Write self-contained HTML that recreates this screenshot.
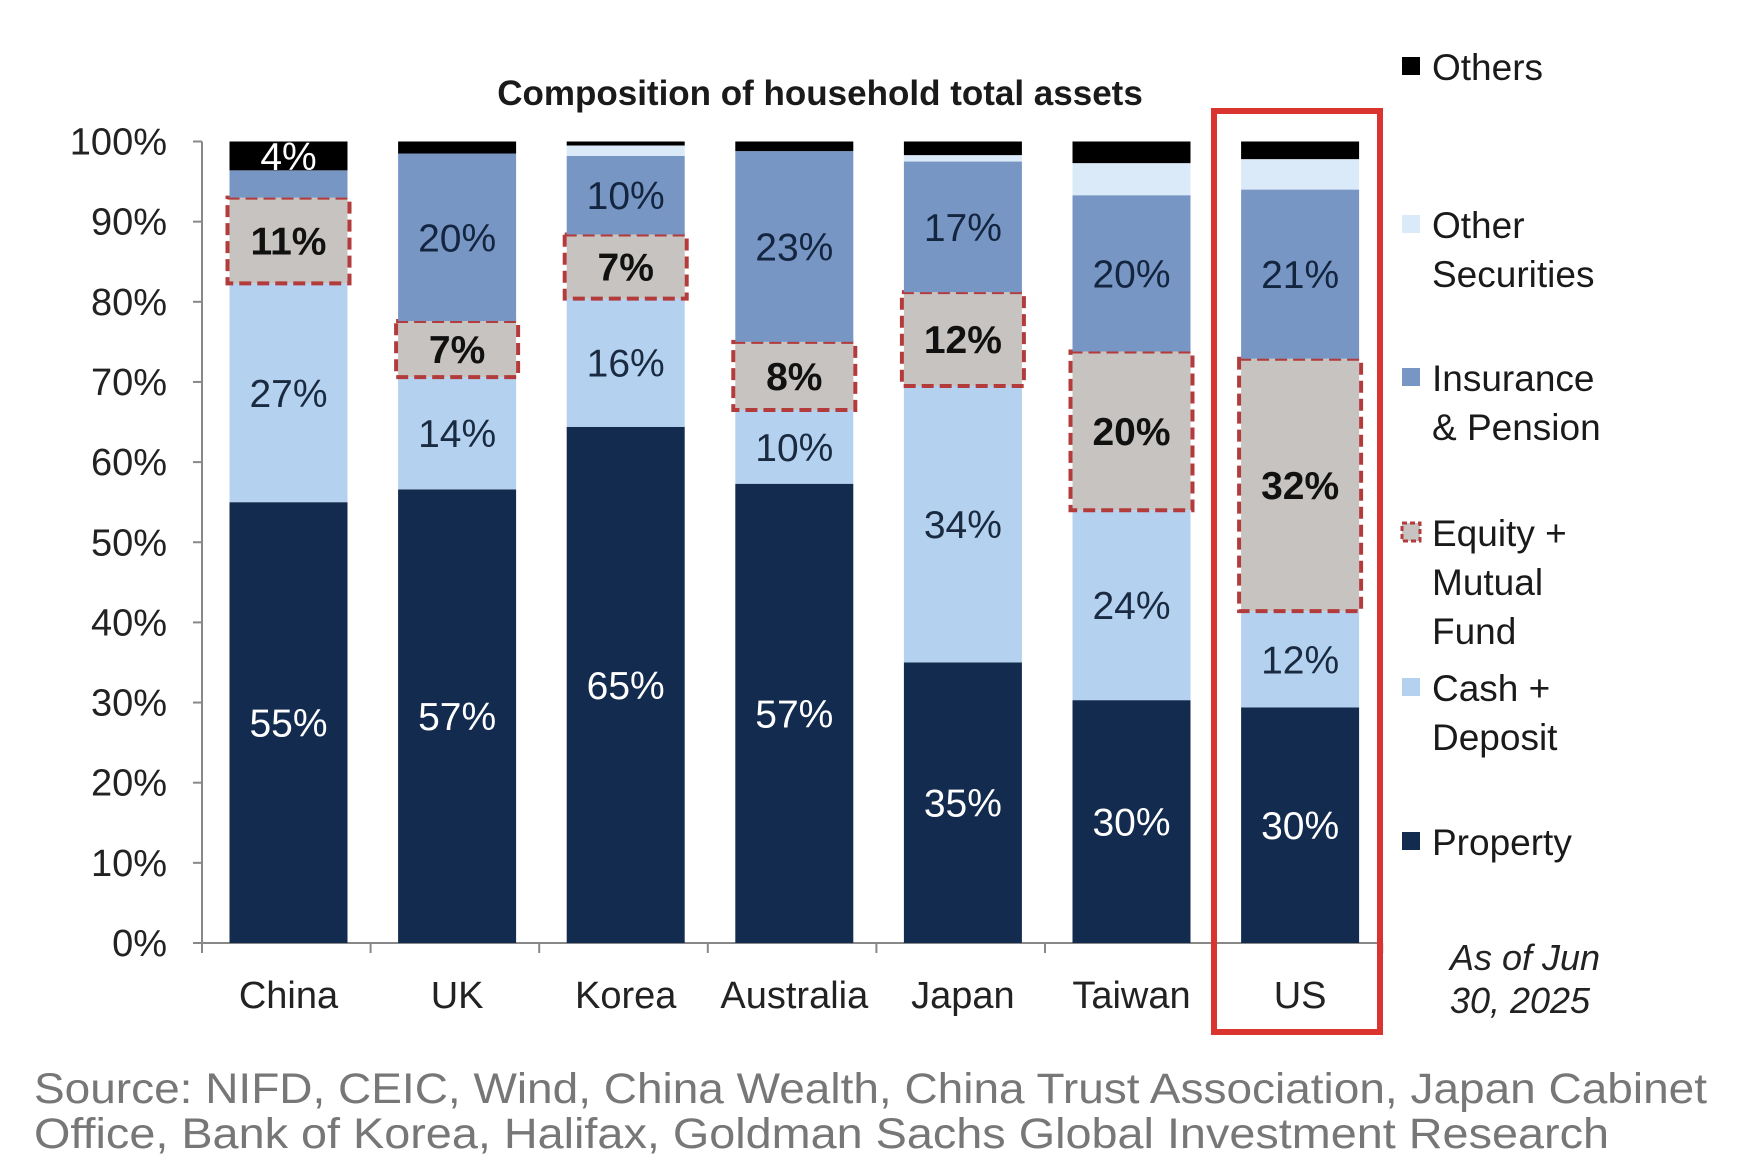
<!DOCTYPE html>
<html><head><meta charset="utf-8">
<style>
html,body{margin:0;padding:0;background:#fff;width:1761px;height:1163px;overflow:hidden}
svg{display:block}
text{font-family:"Liberation Sans",Arial,sans-serif}
</style></head>
<body>
<svg id="chart" width="1761" height="1163" viewBox="0 0 1761 1163" xmlns="http://www.w3.org/2000/svg">
<text x="820" y="105" text-anchor="middle" font-size="35" font-weight="bold" fill="#1a1a1a">Composition of household total assets</text>
<g id="axes"></g>
<g id="bars"></g>
<g id="legend"></g>
<rect x="1214" y="111" width="166" height="921" fill="none" stroke="#d9342f" stroke-width="6"/>
<text x="1525" y="970" text-anchor="middle" font-size="36" font-style="italic" fill="#222">As of Jun</text>
<text x="1520" y="1013" text-anchor="middle" font-size="36" font-style="italic" fill="#222">30, 2025</text>
<text x="34" y="1103" font-size="43" fill="#777" textLength="1673" lengthAdjust="spacingAndGlyphs">Source: NIFD, CEIC, Wind, China Wealth, China Trust Association, Japan Cabinet</text>
<text x="34" y="1148" font-size="43" fill="#777" textLength="1575" lengthAdjust="spacingAndGlyphs">Office, Bank of Korea, Halifax, Goldman Sachs Global Investment Research</text>
</svg>
<script>
const categories = ["China","UK","Korea","Australia","Japan","Taiwan","US"];
const property  = [55, 56.6, 64.4, 57.3, 35, 30.3, 29.4];
const cash      = [27.3, 14, 16, 9.2, 34.5, 23.7, 12];
const equity    = [10.7, 7, 8, 8.5, 11.7, 19.8, 31.5];
const insurance = [3.4, 20.9, 9.8, 23.8, 16.3, 19.5, 21.1];
const otherSec  = [0, 0, 1.3, 0, 0.8, 4, 3.8];
const others    = [3.6, 1.5, 0.5, 1.2, 1.7, 2.7, 2.2];
const propertyLbl  = ["55%","57%","65%","57%","35%","30%","30%"];
const cashLbl      = ["27%","14%","16%","10%","34%","24%","12%"];
const equityLbl    = ["11%","7%","7%","8%","12%","20%","32%"];
const insuranceLbl = ["","20%","10%","23%","17%","20%","21%"];
const othersLbl    = ["4%","","","","","",""];
const yTicks = [0,10,20,30,40,50,60,70,80,90,100];

const NS="http://www.w3.org/2000/svg";
const y0=943, y100=141.5, xAxis0=202, step=168.6, barW=118, firstC=288.5;
const y=v=>y0-(y0-y100)*v/100;
const xc=i=>firstC+i*step;
function mk(tag,attrs,parent,txt){const e=document.createElementNS(NS,tag);for(const k in attrs)e.setAttribute(k,attrs[k]);if(txt!==undefined)e.textContent=txt;parent.appendChild(e);return e;}
const axes=document.getElementById('axes'), bars=document.getElementById('bars'), legend=document.getElementById('legend');

let ax=mk('line',{x1:xAxis0,y1:y100,x2:xAxis0,y2:y0,stroke:'#888','stroke-width':2},axes);


let bx=mk('line',{x1:xAxis0,y1:y0,x2:1378,y2:y0,stroke:'#888','stroke-width':2},axes);


yTicks.forEach(t=>{
  let tk=mk('line',{x1:xAxis0-9,y1:y(t),x2:xAxis0,y2:y(t),stroke:'#888','stroke-width':2},axes);
  
  
  let tl=mk('text',{x:167,y:y(t)+13,'text-anchor':'end','font-size':38,fill:'#222'},axes,t+'%');
  
  
});
for(let i=0;i<=categories.length;i++){
  let xx=xAxis0+i*step;
  let tk=mk('line',{x1:xx,y1:y0,x2:xx,y2:y0+10,stroke:'#888','stroke-width':2},axes);
  
  
}
categories.forEach((c,i)=>{
  let t=mk('text',{x:xc(i),y:1008,'text-anchor':'middle','font-size':38,fill:'#222'},axes,c);
  
  
});

const series=[
 {d:property,l:propertyLbl,fill:'#132b4f',tc:'#fff',n:'property'},
 {d:cash,l:cashLbl,fill:'#b4d2ef',tc:'#1a2a40',n:'cash'},
 {d:equity,l:equityLbl,fill:'#c6c3c1',tc:'#111',n:'equity',dash:true},
 {d:insurance,l:insuranceLbl,fill:'#7896c4',tc:'#142540',n:'insurance'},
 {d:otherSec,l:null,fill:'#dbeaf9',tc:'#000',n:'other-securities'},
 {d:others,l:othersLbl,fill:'#000',tc:'#fff',n:'others'}
];
categories.forEach((c,i)=>{
  let cum=0;
  series.forEach(s=>{
    const v=s.d[i]; const top=y(cum+v), bot=y(cum);
    const x=xc(i)-barW/2;
    if(v>0){
      let r=mk('rect',{x:x,y:top,width:barW,height:bot-top,fill:s.fill},bars);
      
      
      if(s.dash){
        let b=mk('rect',{x:x-2,y:top,width:barW+4,height:bot-top,fill:'none',stroke:'#b33b3b','stroke-width':4,'stroke-dasharray':'12 6'},bars);
        
        
      }
      if(s.l && s.l[i]){
        let t=mk('text',{x:xc(i),y:(top+bot)/2+14,'text-anchor':'middle','font-size':39,fill:s.tc,'font-weight':s.dash?'bold':'normal'},bars,s.l[i]);
        
        
      }
    }
    cum+=v;
  });
});

const leg=[
 {n:'Others',lines:['Others'],fill:'#000',y:67},
 {n:'Other Securities',lines:['Other','Securities'],fill:'#dbeaf9',y:225},
 {n:'Insurance',lines:['Insurance','& Pension'],fill:'#7896c4',y:378},
 {n:'Equity',lines:['Equity +','Mutual','Fund'],fill:'#c6c3c1',y:533,dash:true},
 {n:'Cash',lines:['Cash +','Deposit'],fill:'#b4d2ef',y:688},
 {n:'Property',lines:['Property'],fill:'#132b4f',y:842}
];
leg.forEach(e=>{
  let s=mk('rect',{x:1402,y:e.y-10,width:18,height:18,fill:e.fill,stroke:e.dash?'#b33b3b':'none','stroke-width':e.dash?3:0,'stroke-dasharray':e.dash?'5 3':''},legend);
  
  
  e.lines.forEach((ln,k)=>{
    let t=mk('text',{x:1432,y:e.y+13+k*49,'font-size':37,fill:'#1a1a1a'},legend,ln);
    
    
  });
});
</script>
</body></html>
